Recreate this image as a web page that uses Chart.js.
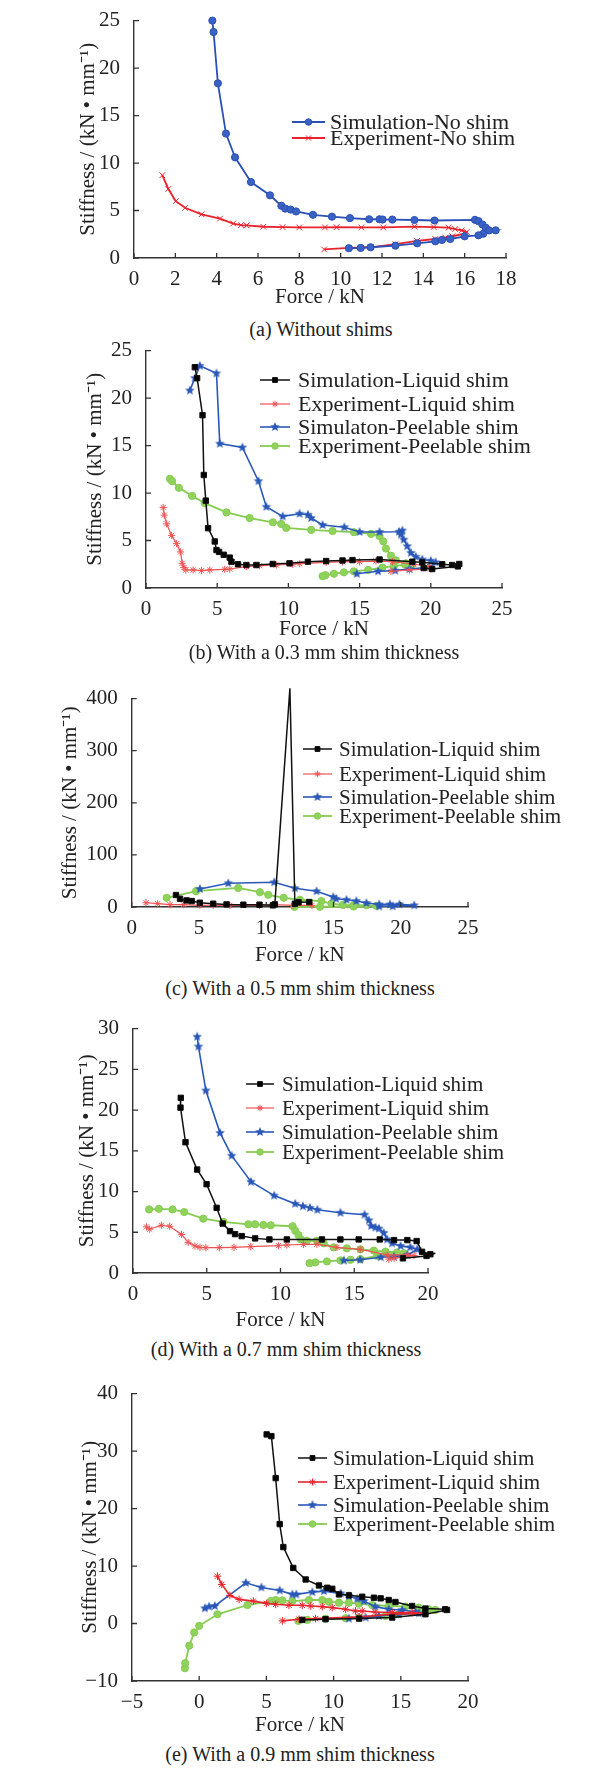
<!DOCTYPE html>
<html lang="en">
<head>
<meta charset="UTF-8">
<title>Stiffness vs force</title>
<script src="https://cdn.jsdelivr.net/npm/chart.js"></script>
<style>
  body { margin: 0; background: #fff; }
  #page { position: relative; width: 616px; height: 1769px; font-family: "Liberation Serif", "Times New Roman", serif; color: #222; }
  .panel { position: absolute; left: 0; width: 616px; }
  .caption { position: absolute; width: 420px; text-align: center; font-size: 20px; line-height: 24px; white-space: nowrap; }
</style>
</head>
<body>
<div id="page"></div>
<script>
// ---- data: [force kN, stiffness kN/mm] ----
// (a) without shims
const aSimNoShim = [[3.79,25],[3.85,23.8],[4.06,18.4],[4.45,13.1],[4.89,10.6],[5.66,8.0],[6.58,6.6],[7.13,5.5],[7.32,5.2],[7.58,5.1],[7.84,4.9],[8.66,4.55],[9.58,4.35],[10.45,4.2],[11.38,4.08],[11.88,4.08],[12.03,4.05],[12.5,4.05],[13.57,4.0],[14.54,3.95],[16.5,4.02],[16.67,3.88],[16.86,3.53],[17.02,3.19],[17.18,2.91],[17.5,2.91],[16.9,2.56],[16.67,2.39],[16.0,2.28],[15.3,2.0],[14.9,1.9],[14.58,1.76],[13.7,1.55],[12.65,1.3],[11.45,1.13],[10.97,1.06],[10.4,1.03]];
const aExpNoShim = [[1.37,8.72],[1.66,7.27],[2.02,5.99],[2.47,5.29],[3.27,4.6],[4.16,4.15],[4.8,3.63],[5.18,3.46],[5.45,3.43],[6.26,3.29],[7.19,3.25],[8.0,3.22],[9.24,3.22],[9.8,3.25],[11.0,3.22],[12.06,3.22],[13.57,3.3],[14.5,3.26],[15.22,3.2],[15.54,3.05],[15.86,2.91],[16.1,2.74],[16.0,2.56],[15.4,2.29],[15.06,2.15],[14.58,2.0],[13.7,1.8],[12.65,1.45],[11.45,1.13],[10.4,1.06],[9.2,0.9]];
// (b) 0.3 mm
const bSimLiquid = [[3.43,23.25],[3.59,22.1],[3.97,18.2],[4.06,11.9],[4.2,9.2],[4.36,6.3],[4.83,4.9],[4.95,4.0],[5.13,3.8],[5.46,3.5],[5.88,3.2],[6.0,2.77],[6.46,2.5],[7.05,2.42],[7.75,2.42],[8.9,2.53],[10.08,2.6],[11.37,2.77],[12.65,2.84],[13.8,2.9],[14.5,2.94],[16.4,3.0],[18.7,2.77],[19.4,2.7],[20.8,2.5],[21.5,2.42],[22.0,2.53],[21.9,2.28],[20.1,2.0],[19.5,2.1]];
const bExpLiquid = [[1.21,8.48],[1.28,7.68],[1.45,6.75],[1.8,5.54],[2.15,4.67],[2.43,3.8],[2.54,2.6],[2.66,2.15],[2.8,1.9],[3.31,1.9],[3.9,1.83],[4.48,1.9],[5.53,1.97],[5.88,2.0],[7.05,2.25],[7.98,2.35],[9.15,2.42],[10.3,2.5],[10.8,2.56],[12.65,2.7],[13.8,2.77],[15.0,2.77],[16.15,2.84],[17.3,2.77],[18.8,2.5],[19.9,2.28],[20.0,2.0],[18.5,1.9],[17.2,1.76]];
const bSimPeel = [[3.08,20.8],[3.43,22.1],[3.78,23.4],[4.95,22.6],[5.18,15.2],[6.77,14.8],[7.9,11.25],[8.45,8.55],[9.6,7.54],[10.78,7.82],[11.37,7.72],[11.6,7.37],[12.4,6.64],[13.93,6.4],[15.0,5.9],[16.4,5.9],[17.76,5.92],[18.0,6.05],[17.9,5.64],[18.1,5.1],[18.35,4.4],[18.6,3.7],[18.94,3.3],[19.4,3.0],[20.0,2.87],[20.35,2.7],[19.9,2.18],[18.5,2.0],[17.5,1.83],[16.3,1.76],[14.8,1.5]];
const bExpPeel = [[1.68,11.5],[1.84,11.25],[2.31,10.55],[3.24,9.7],[4.13,8.93],[5.65,7.96],[7.28,7.37],[8.91,6.92],[9.5,6.75],[9.85,6.33],[11.6,6.12],[13.1,6.0],[14.6,5.88],[15.8,5.7],[16.4,5.47],[16.66,4.91],[16.85,4.15],[17.2,3.4],[17.55,2.9],[18.25,2.6],[18.7,2.5],[18.2,2.45],[17.4,2.3],[16.6,2.15],[15.6,1.9],[14.6,1.75],[13.9,1.65],[13.2,1.5],[12.6,1.35],[12.4,1.25]];
// (c) 0.5 mm
const cSimLiquid = [[3.29,23],[3.59,15.8],[4.08,12.6],[4.46,11.4],[5.07,8.2],[6.06,6.3],[7.05,5],[8.3,4.4],[9.5,4.4],[10.5,3.2],[10.64,5],[11.76,420],[12.13,6.3],[12.4,9],[13.2,9.5]];
const cExpLiquid = [[1.06,8.2],[1.93,6.3],[2.85,4.4],[3.84,4.4],[5.07,3.2],[6.06,3.2],[7.3,3.2],[9.5,3.2],[10.5,4.4],[12.0,3.2],[13.4,3.2]];
const cSimPeel = [[5.07,34.7],[7.18,45.5],[10.6,47.4],[12.13,36],[13.74,30.3],[14.98,19],[15.2,15.8],[15.97,13.9],[16.7,11.4],[17.45,7.6],[18.4,5],[19.2,5],[19.9,5],[21.0,3.2],[19.4,1.3],[18.4,1.3]];
const cExpPeel = [[2.6,17.7],[4.78,30.3],[7.92,36.6],[9.53,28.4],[10.15,23.4],[11.3,17.7],[12.5,13.9],[14.1,11.4],[14.85,6.3],[15.7,4],[16.5,3.5],[17.45,3.2],[18.2,2],[16.5,0.8],[14,0.5],[12.1,0.3]];
// (d) 0.7 mm
const dSimLiquid = [[3.24,21.5],[3.22,20.3],[3.56,16.05],[4.35,12.7],[4.99,10.9],[5.67,8.0],[6.08,6.07],[6.58,5.14],[6.92,4.77],[7.37,4.53],[8.28,4.25],[9.25,4.12],[10.43,4.12],[12.81,4.12],[14.06,4.12],[15.3,4.12],[16.73,4.12],[17.7,4.04],[18.6,4.04],[19.23,3.92],[19.6,2.6],[20.16,2.3],[20.5,2.43],[19.9,2.1],[18.3,1.8]];
const dExpLiquid = [[0.91,5.66],[1.13,5.38],[1.93,5.86],[2.49,5.74],[3.29,4.73],[3.74,3.76],[4.2,3.32],[4.54,3.15],[4.94,3.11],[5.85,3.11],[6.85,3.15],[7.98,3.23],[9.86,3.36],[10.43,3.44],[11.56,3.52],[12.47,3.52],[13.83,3.15],[15.4,2.9],[17.23,2.22],[18.6,2.22],[19.05,2.14],[17.7,1.82],[17.35,1.7]];
const dSimPeel = [[4.35,29],[4.44,27.8],[4.94,22.4],[5.9,17.2],[6.69,14.4],[8.0,11.2],[9.57,9.5],[11.0,8.5],[11.52,8.2],[12.0,8.0],[12.5,7.76],[14.06,7.4],[15.7,7.16],[15.99,6.47],[16.15,5.78],[16.44,5.58],[16.67,5.46],[17.0,4.93],[17.23,4.12],[17.57,3.64],[18.14,3.32],[18.8,3.15],[19.27,2.9],[18.6,2.22],[17.7,2.0],[16.8,1.94],[15.4,1.62],[14.3,1.54]];
const dExpPeel = [[1.09,7.8],[1.75,7.88],[2.68,7.8],[3.47,7.48],[4.76,6.67],[6.12,6.27],[7.82,5.98],[8.28,5.98],[8.84,5.9],[9.34,5.86],[10.82,5.74],[11.0,5.18],[11.22,4.65],[11.38,4.12],[11.79,3.96],[12.47,3.96],[12.93,3.64],[13.6,3.15],[14.5,3.03],[15.42,2.9],[16.33,2.75],[17.12,2.63],[17.9,2.5],[18.37,2.43],[17.46,2.22],[16.55,2.1],[15.42,1.7],[14.74,1.62],[14.06,1.54],[13.15,1.42],[12.36,1.3],[11.97,1.21]];
// (e) 0.9 mm
const eSimLiquid = [[5.02,32.9],[5.37,32.6],[5.69,25.3],[5.99,17.3],[6.26,13.3],[7.0,9.67],[7.92,7.66],[8.91,6.62],[9.53,6.22],[9.9,6.04],[10.4,5.07],[11.14,4.9],[12.13,4.66],[13.0,4.49],[13.5,4.38],[14.1,4.09],[14.6,3.74],[15.84,3.05],[16.83,2.6],[18.3,2.48],[18.44,2.36],[16.83,1.61],[14.36,1.04],[11.9,0.86],[9.4,0.75],[7.67,0.63]];
const eExpLiquid = [[1.36,8.23],[1.68,6.8],[2.28,4.9],[2.97,4.2],[4.03,3.9],[5.0,3.5],[5.69,3.34],[6.68,3.17],[7.67,3.17],[8.3,3.05],[9.16,2.94],[9.9,2.76],[10.9,2.48],[11.63,2.19],[12.13,2.19],[13.1,2.0],[14.36,1.9],[15.84,1.9],[16.83,1.78],[14.36,1.6],[11.9,1.15],[8.66,0.86],[7.43,0.75],[6.19,0.46]];
const eSimPeel = [[0.42,2.65],[0.74,2.94],[1.16,3.05],[3.47,7.08],[4.63,6.28],[5.99,5.76],[6.93,5.07],[7.23,5.07],[8.42,5.47],[9.28,5.64],[10.52,5.24],[11.14,4.78],[11.76,4.32],[12.25,3.91],[13.1,2.94],[14.1,2.48],[15.1,2.36],[16.1,2.0],[16.34,1.78],[14.85,1.6],[13.37,1.32],[12.38,1.04],[11.14,0.86]];
const eExpPeel = [[-1.06,-7.77],[-1.04,-6.9],[-0.74,-3.86],[-0.37,-1.55],[0,-0.4],[1.36,1.61],[3.59,3.22],[5.32,3.91],[5.69,4.09],[6.19,4.03],[6.93,3.91],[8.17,4.09],[9.16,4.09],[9.65,3.8],[10.4,3.63],[11.14,3.63],[11.88,3.45],[12.87,3.22],[14.1,3.05],[15.35,2.94],[16.34,2.76],[17.08,2.48],[17.57,2.36],[16.34,1.9],[14.85,1.6],[13.86,1.32],[11.88,1.04],[10.9,0.92],[9.4,0.86],[8.04,0.63],[7.38,0.46]];

// ---- tick labels ----
const aXTicks = [0,2,4,6,8,10,12,14,16,18];
const aYTicks = [0,5,10,15,20,25];
const bXTicks = [0,5,10,15,20,25];
const bYTicks = [0,5,10,15,20,25];
const cXTicks = [0,5,10,15,20,25];
const cYTicks = [0,100,200,300,400];
const dXTicks = [0,5,10,15,20];
const dYTicks = [0,5,10,15,20,25,30];
const eXTicks = [-5,0,5,10,15,20];
const eYTicks = [-10,0,10,20,30,40];

// ---- series labels and captions ----
const noShimLabels = ['Simulation-No shim', 'Experiment-No shim'];
const bLabels = ['Simulation-Liquid shim', 'Experiment-Liquid shim', 'Simulaton-Peelable shim', 'Experiment-Peelable shim'];
const shimLabels = ['Simulation-Liquid shim', 'Experiment-Liquid shim', 'Simulation-Peelable shim', 'Experiment-Peelable shim'];
const captions = ['(a) Without shims', '(b) With a 0.3 mm shim thickness', '(c) With a 0.5 mm shim thickness', '(d) With a 0.7 mm shim thickness', '(e) With a 0.9 mm shim thickness'];
const xTitle = 'Force / kN';
const yTitle = 'Stiffness / (kN \u2022 mm\u207B\u00B9)';

const FONT = "'Liberation Serif', 'Times New Roman', serif";

function makeStar(color, r) {
    const c = document.createElement('canvas');
    const s = Math.ceil(r * 2 + 2);
    c.width = s; c.height = s;
    const g = c.getContext('2d');
    g.fillStyle = color;
    g.beginPath();
    for (let i = 0; i < 10; i++) {
        const a = -Math.PI / 2 + i * Math.PI / 5;
        const rr = i % 2 ? r * 0.45 : r;
        g.lineTo(s / 2 + rr * Math.cos(a), s / 2 + rr * Math.sin(a));
    }
    g.closePath();
    g.fill();
    return c;
}

const starImg = makeStar('#2a58b8', 5);

const sty = {
    simNo:  { color: '#2b50b5', fill: '#3a62c4', pointStyle: 'circle', radius: 3.6, width: 1.8 },
    expNo:  { color: '#e8232b', fill: '#e8232b', pointStyle: 'crossRot', radius: 4, width: 1.8 },
    simLiq: { color: '#111111', fill: '#000000', pointStyle: 'rect', radius: 3.8, width: 1.5 },
    expLiq: { color: '#ee5252', fill: '#ee5252', pointStyle: 'star', radius: 3.6, width: 1.2 },
    expLiqE:{ color: '#e8232b', fill: '#e8232b', pointStyle: 'star', radius: 3.8, width: 1.6 },
    simPeel:{ color: '#2a58b8', fill: '#2a58b8', pointStyle: starImg, radius: 5, width: 1.6 },
    expPeel:{ color: '#86cc50', fill: '#8fd35c', pointStyle: 'circle', radius: 3.6, width: 1.8 }
};

function ds(label, pts, s) {
    return {
        label: label,
        data: pts.map(p => ({ x: p[0], y: p[1] })),
        showLine: true,
        borderColor: s.color,
        backgroundColor: s.fill,
        borderWidth: s.width,
        pointStyle: s.pointStyle,
        pointRadius: s.radius,
        pointBorderColor: s.color,
        pointBackgroundColor: s.fill,
        pointBorderWidth: 1,
        tension: 0,
        clip: false
    };
}

// inward tick marks, like the original
const inwardTicks = {
    id: 'inwardTicks',
    afterDraw(chart) {
        const ctx = chart.ctx, xs = chart.scales.x, ys = chart.scales.y;
        ctx.save();
        ctx.strokeStyle = '#333';
        ctx.lineWidth = 1.3;
        ctx.beginPath();
        xs.ticks.forEach(t => {
            const px = xs.getPixelForValue(t.value);
            ctx.moveTo(px, ys.bottom); ctx.lineTo(px, ys.bottom - 5);
        });
        ys.ticks.forEach(t => {
            const py = ys.getPixelForValue(t.value);
            ctx.moveTo(xs.left, py); ctx.lineTo(xs.left + 5, py);
        });
        ctx.stroke();
        ctx.restore();
    }
};

// legend drawn inside the plot
const inLegend = {
    id: 'inLegend',
    afterDraw(chart, args, opts) {
        if (!opts || !opts.rows) return;
        const ctx = chart.ctx;
        ctx.save();
        ctx.font = opts.size + 'px ' + FONT;
        ctx.textBaseline = 'middle';
        chart.data.datasets.forEach((d, i) => {
            const y = opts.rows[i] - opts.top;
            ctx.strokeStyle = d.borderColor;
            ctx.lineWidth = d.borderWidth;
            ctx.beginPath();
            ctx.moveTo(opts.x1, y); ctx.lineTo(opts.x2, y);
            ctx.stroke();
            const cx = (opts.x1 + opts.x2) / 2;
            ctx.fillStyle = d.pointBackgroundColor;
            ctx.strokeStyle = d.pointBorderColor;
            ctx.lineWidth = 1;
            if (Chart.helpers && Chart.helpers.drawPoint) {
                Chart.helpers.drawPoint(ctx, { pointStyle: d.pointStyle, radius: d.pointRadius * 0.9, rotation: 0, borderWidth: 1 }, cx, y);
            }
            ctx.fillStyle = '#222';
            ctx.fillText(d.label, opts.tx, y + 1);
        });
        ctx.restore();
    }
};

const panels = [
    { sets: [ds(noShimLabels[0], aSimNoShim, sty.simNo), ds(noShimLabels[1], aExpNoShim, sty.expNo)],
      xt: aXTicks, yt: aYTicks, left: 134, right: 506, top: 17.7, bottom: 258, yTitleX: 88, xTitleY: 297,
      cap: [321, 329], leg: { x1: 292, x2: 325, tx: 330, rows: [122, 138], size: 22 } },
    { sets: [ds(bLabels[0], bSimLiquid, sty.simLiq), ds(bLabels[1], bExpLiquid, sty.expLiq), ds(bLabels[2], bSimPeel, sty.simPeel), ds(bLabels[3], bExpPeel, sty.expPeel)],
      xt: bXTicks, yt: bYTicks, left: 146, right: 502, top: 348, bottom: 588, yTitleX: 95, xTitleY: 629,
      cap: [324, 652], leg: { x1: 260, x2: 290, tx: 298, rows: [380, 404, 427, 446], size: 22 } },
    { sets: [ds(shimLabels[0], cSimLiquid, sty.simLiq), ds(shimLabels[1], cExpLiquid, sty.expLiq), ds(shimLabels[2], cSimPeel, sty.simPeel), ds(shimLabels[3], cExpPeel, sty.expPeel)],
      xt: cXTicks, yt: cYTicks, left: 131.7, right: 468, top: 696, bottom: 907, yTitleX: 70, xTitleY: 955,
      cap: [300, 988], leg: { x1: 303, x2: 332, tx: 339, rows: [749, 774, 797, 816], size: 21 } },
    { sets: [ds(shimLabels[0], dSimLiquid, sty.simLiq), ds(shimLabels[1], dExpLiquid, sty.expLiq), ds(shimLabels[2], dSimPeel, sty.simPeel), ds(shimLabels[3], dExpPeel, sty.expPeel)],
      xt: dXTicks, yt: dYTicks, left: 133, right: 428, top: 1026, bottom: 1273, yTitleX: 87, xTitleY: 1320,
      cap: [286, 1349], leg: { x1: 246, x2: 274, tx: 282, rows: [1084, 1108, 1132, 1152], size: 21 } },
    { sets: [ds(shimLabels[0], eSimLiquid, sty.simLiq), ds(shimLabels[1], eExpLiquid, sty.expLiqE), ds(shimLabels[2], eSimPeel, sty.simPeel), ds(shimLabels[3], eExpPeel, sty.expPeel)],
      xt: eXTicks, yt: eYTicks, left: 132, right: 468, top: 1391, bottom: 1681, yTitleX: 90, xTitleY: 1725,
      cap: [300, 1754], leg: { x1: 298, x2: 327, tx: 333, rows: [1458, 1482, 1505, 1524], size: 21 } }
];

const page = document.getElementById('page');

panels.forEach((p, k) => {
    const half = 12.6;
    const T = Math.max(0, Math.round(p.top - 16));
    const xBoxBottom = p.xTitleY + half;
    const H = Math.ceil(xBoxBottom - T + 2);
    const yLeft = p.yTitleX - half;

    const div = document.createElement('div');
    div.className = 'panel';
    div.style.top = T + 'px';
    div.style.height = H + 'px';
    const cv = document.createElement('canvas');
    cv.width = 616; cv.height = H;
    div.appendChild(cv);
    page.appendChild(div);

    const cap = document.createElement('div');
    cap.className = 'caption';
    cap.textContent = captions[k];
    cap.style.left = (p.cap[0] - 210) + 'px';
    cap.style.top = (p.cap[1] - 12) + 'px';
    page.appendChild(cap);

    p.leg.top = T;

    new Chart(cv, {
        type: 'scatter',
        data: { datasets: p.sets },
        options: {
            responsive: false,
            animation: false,
            events: [],
            layout: { padding: { left: yLeft, right: 616 - p.right, top: p.top - T, bottom: T + H - xBoxBottom } },
            plugins: { legend: { display: false }, tooltip: { enabled: false }, inLegend: p.leg },
            scales: {
                x: {
                    type: 'linear',
                    min: p.xt[0], max: p.xt[p.xt.length - 1],
                    afterBuildTicks: s => { s.ticks = p.xt.map(v => ({ value: v })); },
                    afterFit: s => { s.height = xBoxBottom - p.bottom; },
                    grid: { display: false },
                    border: { display: true, color: '#333', width: 1.4 },
                    ticks: { autoSkip: false, maxRotation: 0, padding: 1, color: '#222', font: { family: FONT, size: 21 },
                             callback: v => String(v).replace('-', '\u2212') },
                    title: { display: true, text: xTitle, color: '#222', padding: 0, font: { family: FONT, size: 21 } }
                },
                y: {
                    type: 'linear',
                    min: p.yt[0], max: p.yt[p.yt.length - 1],
                    afterBuildTicks: s => { s.ticks = p.yt.map(v => ({ value: v })); },
                    afterFit: s => { s.width = p.left - yLeft; },
                    grid: { display: false },
                    border: { display: true, color: '#333', width: 1.4 },
                    ticks: { autoSkip: false, padding: 6, color: '#222', font: { family: FONT, size: 21 },
                             callback: v => String(v).replace('-', '\u2212') },
                    title: { display: true, text: yTitle, color: '#222', padding: 0, font: { family: FONT, size: 21 } }
                }
            }
        },
        plugins: [inwardTicks, inLegend]
    });
});
</script>
</body>
</html>
